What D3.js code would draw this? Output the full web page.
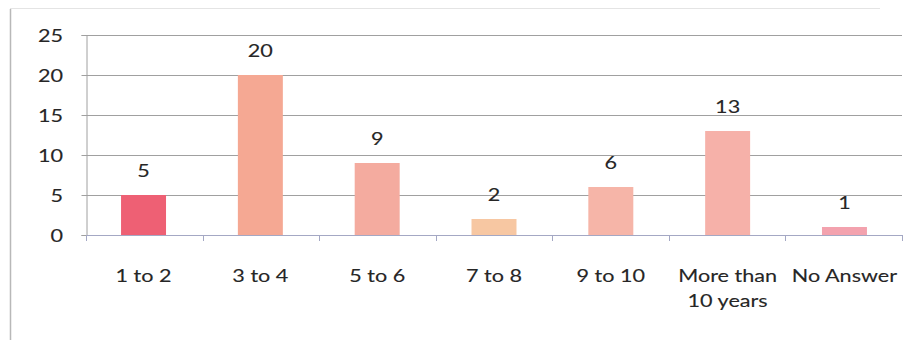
<!DOCTYPE html>
<html>
<head>
<meta charset="utf-8">
<script src="https://cdn.jsdelivr.net/npm/d3@7/dist/d3.min.js"></script>
<style>
  html, body { margin: 0; padding: 0; background: #fff; }
  svg { display: block; }
  text { font-family: Lato, "Open Sans", sans-serif; fill: #262626; stroke: #262626; stroke-width: 0.12; }
</style>
</head>
<body>
<svg id="chart" width="917" height="340"></svg>
<script>
// Years of experience respondents
const categories = ["1 to 2", "3 to 4", "5 to 6", "7 to 8", "9 to 10", "More than\n10 years", "No Answer"];
const counts = [5, 20, 9, 2, 6, 13, 1];
const barColors = ["#ee6074", "#f5a893", "#f4ab9f", "#f7c7a2", "#f6b5a8", "#f6b1a9", "#f3a2ae"];
const yTicks = [0, 5, 10, 15, 20, 25];

const svg = d3.select("#chart");
const margin = { left: 86, right: 15, top: 35, bottom: 105 };
const W = 917, H = 340;
const FS = 18;       // label font size
const SX = 1.2;      // horizontal widening of label glyphs

// Places a text label at (cx, cy) with widened glyphs
function label(g, cx, cy, str, anchor) {
  return g.append("g").attr("transform", `translate(${cx},${cy}) scale(${SX},1)`)
    .append("text").attr("text-anchor", anchor || "middle").attr("font-size", FS).text(str);
}

// Chart frame
svg.append("line").attr("x1", 10.5).attr("x2", 10.5).attr("y1", 9).attr("y2", H)
  .attr("stroke", "#b8b8b8").attr("stroke-width", 1.5);
svg.append("line").attr("x1", 10).attr("x2", 880).attr("y1", 8.5).attr("y2", 8.5)
  .attr("stroke", "#e4e4e4").attr("stroke-width", 1);

const x = d3.scaleBand().domain(categories).range([margin.left, W - margin.right]).paddingInner(0.615).paddingOuter(0.3);
const y = d3.scaleLinear().domain([0, 25]).range([H - margin.bottom, margin.top]);

// Horizontal gridlines
svg.append("g").selectAll("line").data(yTicks.filter(d => d > 0)).join("line")
  .attr("x1", margin.left).attr("x2", W - margin.right)
  .attr("y1", d => Math.round(y(d)) + 0.5).attr("y2", d => Math.round(y(d)) + 0.5)
  .attr("stroke", "#a0a0a0").attr("stroke-width", 1);

// Y axis line and ticks
const yAxis = svg.append("g").attr("transform", `translate(${margin.left + 0.5},0)`)
  .call(d3.axisLeft(y).tickValues(yTicks).tickSize(5).tickFormat(""));
yAxis.select(".domain").attr("stroke", "#a0a0a0");
yAxis.selectAll(".tick line").attr("stroke", "#a0a0a0");

// Y tick labels
const yl = svg.append("g");
yTicks.forEach(t => label(yl, 63, y(t) + 6.5, t, "end"));

// Bars
svg.append("g").selectAll("rect").data(categories).join("rect")
  .attr("x", d => x(d))
  .attr("width", x.bandwidth())
  .attr("y", (d, i) => y(counts[i]))
  .attr("height", (d, i) => y(0) - y(counts[i]))
  .attr("fill", (d, i) => barColors[i]);

// X axis baseline and tick marks at band boundaries
const bounds = d3.range(categories.length + 1).map(i => margin.left + i * (W - margin.right - margin.left) / categories.length);
svg.append("line").attr("x1", margin.left).attr("x2", W - margin.right)
  .attr("y1", Math.round(y(0)) + 0.5).attr("y2", Math.round(y(0)) + 0.5)
  .attr("stroke", "#a4a8c4").attr("stroke-width", 1.2);
svg.append("g").selectAll("line").data(bounds).join("line")
  .attr("x1", d => Math.round(d) + 0.5).attr("x2", d => Math.round(d) + 0.5)
  .attr("y1", y(0)).attr("y2", y(0) + 6)
  .attr("stroke", "#a4a8c4");

// Category labels
const xl = svg.append("g");
categories.forEach(c => {
  c.split("\n").forEach((line, k) => label(xl, x(c) + x.bandwidth() / 2, 282 + k * 25, line));
});

// Value labels
const vl = svg.append("g");
categories.forEach((c, i) => label(vl, x(c) + x.bandwidth() / 2, y(counts[i]) - 18, counts[i]));
</script>
</body>
</html>
